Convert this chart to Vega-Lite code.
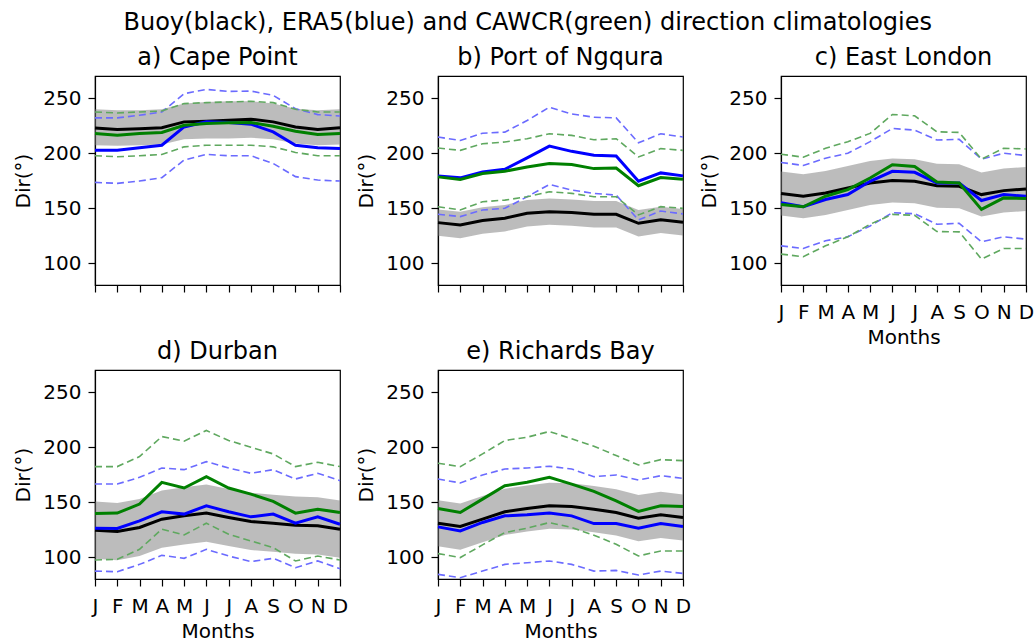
{
  "$schema": "https://vega.github.io/schema/vega-lite/v6.json",
  "background": "white",
  "padding": {"left": 13, "top": 11, "right": 1, "bottom": 0},
  "title": {"text": "Buoy(black), ERA5(blue) and CAWCR(green) direction climatologies", "anchor": "middle", "fontSize": 24, "offset": 10, "dx": 4},
  "datasets": {
    "clim": [
      {"s":"a","m":"Jan","buoy":222.8,"blo":207.1,"bhi":239.7,"era":202.6,"elo":173.3,"ehi":231.9,"caw":217.7,"clo":197.5,"chi":237.3},
      {"s":"a","m":"Feb","buoy":221.3,"blo":206.5,"bhi":238.8,"era":202.6,"elo":172.4,"ehi":231.9,"caw":216.2,"clo":196.6,"chi":236.4},
      {"s":"a","m":"Mar","buoy":222.0,"blo":207.1,"bhi":238.8,"era":204.7,"elo":174.5,"ehi":234.3,"caw":217.7,"clo":197.5,"chi":237.3},
      {"s":"a","m":"Apr","buoy":223.0,"blo":207.7,"bhi":239.7,"era":207.1,"elo":177.6,"ehi":237.3,"caw":218.6,"clo":198.7,"chi":238.2},
      {"s":"a","m":"May","buoy":228.3,"blo":212.6,"bhi":244.9,"era":223.7,"elo":193.6,"ehi":253.9,"caw":225.2,"clo":205.6,"chi":244.9},
      {"s":"a","m":"Jun","buoy":228.9,"blo":213.2,"bhi":246.4,"era":228.3,"elo":198.7,"ehi":257.8,"caw":226.8,"clo":207.1,"chi":245.8},
      {"s":"a","m":"Jul","buoy":229.8,"blo":213.2,"bhi":247.0,"era":227.7,"elo":197.5,"ehi":256.0,"caw":227.4,"clo":207.1,"chi":246.4},
      {"s":"a","m":"Aug","buoy":230.7,"blo":213.8,"bhi":247.0,"era":226.2,"elo":197.5,"ehi":256.3,"caw":227.7,"clo":207.1,"chi":247.0},
      {"s":"a","m":"Sep","buoy":228.3,"blo":212.6,"bhi":244.9,"era":219.2,"elo":190.5,"ehi":252.4,"caw":224.3,"clo":205.6,"chi":245.8},
      {"s":"a","m":"Oct","buoy":223.7,"blo":208.6,"bhi":240.3,"era":207.1,"elo":178.5,"ehi":240.3,"caw":219.8,"clo":200.5,"chi":239.7},
      {"s":"a","m":"Nov","buoy":221.3,"blo":207.1,"bhi":238.8,"era":204.7,"elo":175.4,"ehi":234.9,"caw":216.8,"clo":197.5,"chi":237.3},
      {"s":"a","m":"Dec","buoy":223.0,"blo":207.7,"bhi":239.7,"era":204.1,"elo":174.5,"ehi":233.7,"caw":217.7,"clo":197.5,"chi":237.3},

      {"s":"b","m":"Jan","buoy":136.7,"blo":124.7,"bhi":148.7,"era":179.2,"elo":144.3,"ehi":214.5,"caw":178.3,"clo":151.2,"chi":204.5},
      {"s":"b","m":"Feb","buoy":134.6,"blo":122.6,"bhi":146.6,"era":177.4,"elo":142.2,"ehi":211.4,"caw":175.9,"clo":148.2,"chi":202.4},
      {"s":"b","m":"Mar","buoy":138.6,"blo":126.6,"bhi":150.6,"era":182.8,"elo":148.2,"ehi":218.0,"caw":181.3,"clo":155.7,"chi":208.4},
      {"s":"b","m":"Apr","buoy":140.7,"blo":128.7,"bhi":152.7,"era":185.2,"elo":149.7,"ehi":219.0,"caw":183.4,"clo":157.2,"chi":210.0},
      {"s":"b","m":"May","buoy":145.2,"blo":133.2,"bhi":157.2,"era":195.5,"elo":160.2,"ehi":229.5,"caw":187.3,"clo":160.2,"chi":213.0},
      {"s":"b","m":"Jun","buoy":146.7,"blo":134.7,"bhi":158.7,"era":206.3,"elo":171.4,"ehi":241.6,"caw":190.4,"clo":164.8,"chi":217.5},
      {"s":"b","m":"Jul","buoy":145.8,"blo":133.8,"bhi":157.8,"era":201.5,"elo":166.3,"ehi":235.5,"caw":189.5,"clo":163.3,"chi":216.0},
      {"s":"b","m":"Aug","buoy":144.3,"blo":132.3,"bhi":156.3,"era":197.9,"elo":163.3,"ehi":232.5,"caw":185.8,"clo":160.2,"chi":212.0},
      {"s":"b","m":"Sep","buoy":144.3,"blo":132.3,"bhi":156.3,"era":197.3,"elo":161.7,"ehi":231.9,"caw":186.4,"clo":160.2,"chi":213.0},
      {"s":"b","m":"Oct","buoy":136.1,"blo":124.1,"bhi":148.1,"era":174.4,"elo":139.2,"ehi":209.3,"caw":170.2,"clo":143.7,"chi":196.4},
      {"s":"b","m":"Nov","buoy":139.2,"blo":127.2,"bhi":151.2,"era":181.9,"elo":147.3,"ehi":217.5,"caw":177.7,"clo":151.2,"chi":204.0},
      {"s":"b","m":"Dec","buoy":137.0,"blo":125.0,"bhi":149.0,"era":179.2,"elo":144.6,"ehi":214.5,"caw":176.2,"clo":149.7,"chi":202.4},

      {"s":"c","m":"Jan","buoy":163.1,"blo":143.1,"bhi":183.1,"era":154.7,"elo":115.6,"ehi":191.4,"caw":153.2,"clo":108.1,"chi":198.9},
      {"s":"c","m":"Feb","buoy":160.7,"blo":140.7,"bhi":180.7,"era":151.1,"elo":113.2,"ehi":188.7,"caw":151.1,"clo":105.7,"chi":196.2},
      {"s":"c","m":"Mar","buoy":163.7,"blo":143.7,"bhi":183.7,"era":157.7,"elo":120.2,"ehi":195.3,"caw":160.7,"clo":115.6,"chi":204.3},
      {"s":"c","m":"Apr","buoy":168.2,"blo":148.2,"bhi":188.2,"era":162.2,"elo":123.8,"ehi":199.8,"caw":166.7,"clo":123.8,"chi":210.3},
      {"s":"c","m":"May","buoy":172.8,"blo":152.8,"bhi":192.8,"era":174.3,"elo":133.7,"ehi":210.3,"caw":177.3,"clo":135.2,"chi":217.8},
      {"s":"c","m":"Jun","buoy":174.9,"blo":154.9,"bhi":194.9,"era":183.3,"elo":145.7,"ehi":222.3,"caw":189.3,"clo":144.2,"chi":235.0},
      {"s":"c","m":"Jul","buoy":174.3,"blo":154.3,"bhi":194.3,"era":182.4,"elo":144.8,"ehi":220.8,"caw":187.8,"clo":143.3,"chi":233.8},
      {"s":"c","m":"Aug","buoy":170.3,"blo":150.3,"bhi":190.3,"era":172.8,"elo":135.2,"ehi":211.8,"caw":173.7,"clo":128.6,"chi":219.3},
      {"s":"c","m":"Sep","buoy":169.7,"blo":149.7,"bhi":189.7,"era":172.8,"elo":136.1,"ehi":212.4,"caw":172.8,"clo":128.3,"chi":218.7},
      {"s":"c","m":"Oct","buoy":162.2,"blo":142.2,"bhi":182.2,"era":156.8,"elo":119.3,"ehi":194.4,"caw":148.7,"clo":103.6,"chi":194.4},
      {"s":"c","m":"Nov","buoy":165.8,"blo":145.8,"bhi":185.8,"era":162.2,"elo":123.8,"ehi":199.8,"caw":159.2,"clo":113.2,"chi":204.3},
      {"s":"c","m":"Dec","buoy":167.3,"blo":147.3,"bhi":187.3,"era":160.7,"elo":121.7,"ehi":197.7,"caw":158.6,"clo":113.2,"chi":203.7},

      {"s":"d","m":"Jan","buoy":124.4,"blo":98.4,"bhi":150.4,"era":126.2,"elo":87.2,"ehi":166.3,"caw":139.6,"clo":97.3,"chi":182.2},
      {"s":"d","m":"Feb","buoy":123.1,"blo":97.1,"bhi":149.1,"era":125.9,"elo":86.6,"ehi":166.3,"caw":139.9,"clo":97.9,"chi":182.2},
      {"s":"d","m":"Mar","buoy":126.8,"blo":100.8,"bhi":152.8,"era":132.9,"elo":93.3,"ehi":172.4,"caw":148.1,"clo":107.0,"chi":191.3},
      {"s":"d","m":"Apr","buoy":134.4,"blo":108.4,"bhi":160.4,"era":141.1,"elo":101.5,"ehi":180.9,"caw":167.9,"clo":125.3,"chi":209.5},
      {"s":"d","m":"May","buoy":137.4,"blo":111.4,"bhi":163.4,"era":139.0,"elo":98.8,"ehi":179.4,"caw":162.7,"clo":120.1,"chi":205.3},
      {"s":"d","m":"Jun","buoy":139.9,"blo":113.9,"bhi":165.9,"era":146.6,"elo":107.0,"ehi":186.7,"caw":173.0,"clo":130.7,"chi":215.0},
      {"s":"d","m":"Jul","buoy":135.9,"blo":109.9,"bhi":161.9,"era":141.1,"elo":100.9,"ehi":180.9,"caw":162.7,"clo":120.7,"chi":205.9},
      {"s":"d","m":"Aug","buoy":132.3,"blo":106.3,"bhi":158.3,"era":136.5,"elo":95.8,"ehi":176.1,"caw":157.2,"clo":114.6,"chi":199.8},
      {"s":"d","m":"Sep","buoy":130.7,"blo":104.7,"bhi":156.7,"era":139.0,"elo":98.8,"ehi":179.4,"caw":150.5,"clo":108.5,"chi":193.7},
      {"s":"d","m":"Oct","buoy":128.9,"blo":102.9,"bhi":154.9,"era":130.7,"elo":90.3,"ehi":170.9,"caw":139.9,"clo":96.4,"chi":182.2},
      {"s":"d","m":"Nov","buoy":128.3,"blo":102.3,"bhi":154.3,"era":136.5,"elo":96.4,"ehi":176.1,"caw":143.5,"clo":100.9,"chi":186.1},
      {"s":"d","m":"Dec","buoy":125.3,"blo":99.3,"bhi":151.3,"era":129.8,"elo":89.4,"ehi":169.4,"caw":140.5,"clo":97.3,"chi":182.2},

      {"s":"e","m":"Jan","buoy":130.7,"blo":109.7,"bhi":151.7,"era":127.4,"elo":84.2,"ehi":170.9,"caw":144.1,"clo":103.1,"chi":185.2},
      {"s":"e","m":"Feb","buoy":127.7,"blo":106.7,"bhi":148.7,"era":123.7,"elo":81.2,"ehi":167.3,"caw":140.5,"clo":99.5,"chi":182.2},
      {"s":"e","m":"Mar","buoy":134.4,"blo":113.4,"bhi":155.4,"era":131.4,"elo":87.2,"ehi":174.6,"caw":152.6,"clo":111.0,"chi":193.7},
      {"s":"e","m":"Apr","buoy":141.1,"blo":120.1,"bhi":162.1,"era":137.4,"elo":93.3,"ehi":180.0,"caw":164.8,"clo":122.2,"chi":205.9},
      {"s":"e","m":"May","buoy":144.1,"blo":123.1,"bhi":165.1,"era":138.3,"elo":94.8,"ehi":180.9,"caw":167.9,"clo":126.2,"chi":208.9},
      {"s":"e","m":"Jun","buoy":146.6,"blo":125.6,"bhi":167.6,"era":139.9,"elo":96.4,"ehi":182.5,"caw":172.4,"clo":131.3,"chi":214.1},
      {"s":"e","m":"Jul","buoy":146.0,"blo":125.0,"bhi":167.0,"era":137.4,"elo":93.3,"ehi":180.0,"caw":166.3,"clo":126.8,"chi":207.4},
      {"s":"e","m":"Aug","buoy":143.5,"blo":122.5,"bhi":164.5,"era":130.4,"elo":87.2,"ehi":173.0,"caw":159.6,"clo":119.8,"chi":200.7},
      {"s":"e","m":"Sep","buoy":140.5,"blo":119.5,"bhi":161.5,"era":130.4,"elo":87.8,"ehi":174.6,"caw":151.1,"clo":111.6,"chi":192.2},
      {"s":"e","m":"Oct","buoy":135.3,"blo":114.3,"bhi":156.3,"era":126.2,"elo":83.6,"ehi":170.0,"caw":141.4,"clo":100.9,"chi":183.7},
      {"s":"e","m":"Nov","buoy":138.3,"blo":117.3,"bhi":159.3,"era":130.4,"elo":87.2,"ehi":173.9,"caw":146.6,"clo":105.5,"chi":188.5},
      {"s":"e","m":"Dec","buoy":135.9,"blo":114.9,"bhi":156.9,"era":127.7,"elo":85.1,"ehi":171.5,"caw":146.0,"clo":105.5,"chi":187.6}
    ]
  },
  "data": {"name": "clim"},
  "columns": 3,
  "bounds": "flush",
  "spacing": {"row": 85, "column": 98},
  "concat": [
    {
      "width": 245, "height": 209,
      "title": "a) Cape Point",
      "transform": [{"filter": "datum.s === 'a'"}],
      "encoding": {"x": {"field": "m", "type": "ordinal", "scale": {"type": "point", "padding": 0, "domain": ["Jan","Feb","Mar","Apr","May","Jun","Jul","Aug","Sep","Oct","Nov","Dec"]}, "axis": {"labels": false, "title": null}}},
      "layer": [
        {"mark": {"type": "area", "color": "#7a7a7a", "opacity": 0.5}, "encoding": {"y": {"field": "blo", "type": "quantitative", "scale": {"domain": [80, 270], "nice": false, "zero": false}, "axis": {"title": "Dir(°)", "values": [100, 150, 200, 250]}}, "y2": {"field": "bhi"}}},
        {"transform": [{"fold": ["elo","ehi","clo","chi"], "as": ["series","value"]}],
         "mark": {"type": "line", "strokeWidth": 1.6, "strokeDash": [7, 4]},
         "encoding": {"y": {"field": "value", "type": "quantitative"}, "color": {"field": "series", "type": "nominal", "legend": null, "scale": {"domain": ["elo","ehi","clo","chi","buoy","era","caw"], "range": ["#6b6bff","#6b6bff","#5fa85f","#5fa85f","#000000","#0000ff","#008000"]}}}},
        {"transform": [{"fold": ["buoy","era","caw"], "as": ["series","value"]}],
         "mark": {"type": "line", "strokeWidth": 3},
         "encoding": {"y": {"field": "value", "type": "quantitative"}, "color": {"field": "series", "type": "nominal", "legend": null}}}
      ]
    },
    {
      "width": 245, "height": 209,
      "title": "b) Port of Ngqura",
      "transform": [{"filter": "datum.s === 'b'"}],
      "encoding": {"x": {"field": "m", "type": "ordinal", "scale": {"type": "point", "padding": 0, "domain": ["Jan","Feb","Mar","Apr","May","Jun","Jul","Aug","Sep","Oct","Nov","Dec"]}, "axis": {"labels": false, "title": null}}},
      "layer": [
        {"mark": {"type": "area", "color": "#7a7a7a", "opacity": 0.5}, "encoding": {"y": {"field": "blo", "type": "quantitative", "scale": {"domain": [80, 270], "nice": false, "zero": false}, "axis": {"title": "Dir(°)", "values": [100, 150, 200, 250]}}, "y2": {"field": "bhi"}}},
        {"transform": [{"fold": ["elo","ehi","clo","chi"], "as": ["series","value"]}],
         "mark": {"type": "line", "strokeWidth": 1.6, "strokeDash": [7, 4]},
         "encoding": {"y": {"field": "value", "type": "quantitative"}, "color": {"field": "series", "type": "nominal", "legend": null, "scale": {"domain": ["elo","ehi","clo","chi","buoy","era","caw"], "range": ["#6b6bff","#6b6bff","#5fa85f","#5fa85f","#000000","#0000ff","#008000"]}}}},
        {"transform": [{"fold": ["buoy","era","caw"], "as": ["series","value"]}],
         "mark": {"type": "line", "strokeWidth": 3},
         "encoding": {"y": {"field": "value", "type": "quantitative"}, "color": {"field": "series", "type": "nominal", "legend": null}}}
      ]
    },
    {
      "width": 245, "height": 209,
      "title": "c) East London",
      "transform": [{"filter": "datum.s === 'c'"}],
      "encoding": {"x": {"field": "m", "type": "ordinal", "scale": {"type": "point", "padding": 0, "domain": ["Jan","Feb","Mar","Apr","May","Jun","Jul","Aug","Sep","Oct","Nov","Dec"]}, "axis": {"title": "Months", "labelAngle": 0, "labelExpr": "substring(datum.label, 0, 1)"}}},
      "layer": [
        {"mark": {"type": "area", "color": "#7a7a7a", "opacity": 0.5}, "encoding": {"y": {"field": "blo", "type": "quantitative", "scale": {"domain": [80, 270], "nice": false, "zero": false}, "axis": {"title": "Dir(°)", "values": [100, 150, 200, 250]}}, "y2": {"field": "bhi"}}},
        {"transform": [{"fold": ["elo","ehi","clo","chi"], "as": ["series","value"]}],
         "mark": {"type": "line", "strokeWidth": 1.6, "strokeDash": [7, 4]},
         "encoding": {"y": {"field": "value", "type": "quantitative"}, "color": {"field": "series", "type": "nominal", "legend": null, "scale": {"domain": ["elo","ehi","clo","chi","buoy","era","caw"], "range": ["#6b6bff","#6b6bff","#5fa85f","#5fa85f","#000000","#0000ff","#008000"]}}}},
        {"transform": [{"fold": ["buoy","era","caw"], "as": ["series","value"]}],
         "mark": {"type": "line", "strokeWidth": 3},
         "encoding": {"y": {"field": "value", "type": "quantitative"}, "color": {"field": "series", "type": "nominal", "legend": null}}}
      ]
    },
    {
      "width": 245, "height": 209,
      "title": "d) Durban",
      "transform": [{"filter": "datum.s === 'd'"}],
      "encoding": {"x": {"field": "m", "type": "ordinal", "scale": {"type": "point", "padding": 0, "domain": ["Jan","Feb","Mar","Apr","May","Jun","Jul","Aug","Sep","Oct","Nov","Dec"]}, "axis": {"title": "Months", "labelAngle": 0, "labelExpr": "substring(datum.label, 0, 1)"}}},
      "layer": [
        {"mark": {"type": "area", "color": "#7a7a7a", "opacity": 0.5}, "encoding": {"y": {"field": "blo", "type": "quantitative", "scale": {"domain": [80, 270], "nice": false, "zero": false}, "axis": {"title": "Dir(°)", "values": [100, 150, 200, 250]}}, "y2": {"field": "bhi"}}},
        {"transform": [{"fold": ["elo","ehi","clo","chi"], "as": ["series","value"]}],
         "mark": {"type": "line", "strokeWidth": 1.6, "strokeDash": [7, 4]},
         "encoding": {"y": {"field": "value", "type": "quantitative"}, "color": {"field": "series", "type": "nominal", "legend": null, "scale": {"domain": ["elo","ehi","clo","chi","buoy","era","caw"], "range": ["#6b6bff","#6b6bff","#5fa85f","#5fa85f","#000000","#0000ff","#008000"]}}}},
        {"transform": [{"fold": ["buoy","era","caw"], "as": ["series","value"]}],
         "mark": {"type": "line", "strokeWidth": 3},
         "encoding": {"y": {"field": "value", "type": "quantitative"}, "color": {"field": "series", "type": "nominal", "legend": null}}}
      ]
    },
    {
      "width": 245, "height": 209,
      "title": "e) Richards Bay",
      "transform": [{"filter": "datum.s === 'e'"}],
      "encoding": {"x": {"field": "m", "type": "ordinal", "scale": {"type": "point", "padding": 0, "domain": ["Jan","Feb","Mar","Apr","May","Jun","Jul","Aug","Sep","Oct","Nov","Dec"]}, "axis": {"title": "Months", "labelAngle": 0, "labelExpr": "substring(datum.label, 0, 1)"}}},
      "layer": [
        {"mark": {"type": "area", "color": "#7a7a7a", "opacity": 0.5}, "encoding": {"y": {"field": "blo", "type": "quantitative", "scale": {"domain": [80, 270], "nice": false, "zero": false}, "axis": {"title": "Dir(°)", "values": [100, 150, 200, 250]}}, "y2": {"field": "bhi"}}},
        {"transform": [{"fold": ["elo","ehi","clo","chi"], "as": ["series","value"]}],
         "mark": {"type": "line", "strokeWidth": 1.6, "strokeDash": [7, 4]},
         "encoding": {"y": {"field": "value", "type": "quantitative"}, "color": {"field": "series", "type": "nominal", "legend": null, "scale": {"domain": ["elo","ehi","clo","chi","buoy","era","caw"], "range": ["#6b6bff","#6b6bff","#5fa85f","#5fa85f","#000000","#0000ff","#008000"]}}}},
        {"transform": [{"fold": ["buoy","era","caw"], "as": ["series","value"]}],
         "mark": {"type": "line", "strokeWidth": 3},
         "encoding": {"y": {"field": "value", "type": "quantitative"}, "color": {"field": "series", "type": "nominal", "legend": null}}}
      ]
    }
  ],
  "config": {
    "font": "DejaVu Sans",
    "view": {"stroke": "black", "strokeWidth": 1.2},
    "axis": {"grid": false, "domainColor": "black", "domainWidth": 1.2, "tickColor": "black", "tickWidth": 1.2, "tickSize": 7, "labelColor": "black", "titleColor": "black", "labelFont": "DejaVu Sans", "titleFont": "DejaVu Sans", "labelFontSize": 20, "titleFontSize": 20, "titleFontWeight": "normal", "labelPadding": 7, "titlePadding": 9},
    "axisX": {"labelFontSize": 20, "labelPadding": 10, "titlePadding": 5},
    "title": {"font": "DejaVu Sans", "fontSize": 24, "fontWeight": "normal", "color": "black", "offset": 6}
  }
}
